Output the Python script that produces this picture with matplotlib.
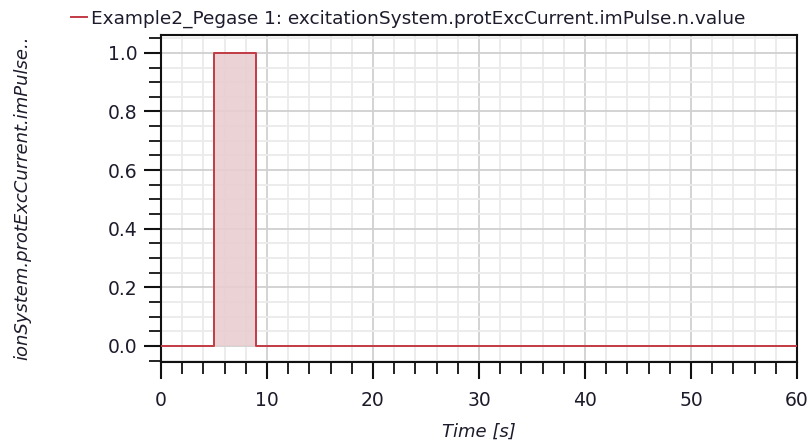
import matplotlib
matplotlib.use("Agg")
import matplotlib.pyplot as plt
from matplotlib.ticker import MultipleLocator

# ---- data ----
time_s = [0, 5, 5, 9, 9, 60]
pulse_value = [0, 0, 1, 1, 0, 0]
series_label = "Example2_Pegase 1: excitationSystem.protExcCurrent.imPulse.n.value"
y_label = "ionSystem.protExcCurrent.imPulse.."
x_label = "Time [s]"
x_ticks = [0, 10, 20, 30, 40, 50, 60]
y_ticks = [0.0, 0.2, 0.4, 0.6, 0.8, 1.0]

plt.rcParams['font.family'] = ['DejaVu Sans']

line_color = "#c23b45"
text_color = "#1c1c2c"

fig = plt.figure(figsize=(8.10, 4.48), dpi=100)
ax = fig.add_axes([161/810, 1-362/448, (797-161)/810, (362-35)/448])

ax.fill_between(time_s, pulse_value, 0, color="#e9cdd0", alpha=0.9, linewidth=0, zorder=2)
ax.plot(time_s, pulse_value, color=line_color, lw=1.4, label=series_label, zorder=3)

ax.set_xlim(0, 60)
ax.set_ylim(-0.055, 1.061)
ax.set_xticks(x_ticks)
ax.set_yticks(y_ticks)
ax.set_yticklabels([f"{v:.1f}" for v in y_ticks])
ax.xaxis.set_minor_locator(MultipleLocator(2))
ax.yaxis.set_minor_locator(MultipleLocator(0.05))

ax.grid(which='major', color='#d0d0d0', lw=1.3, zorder=0)
ax.grid(which='minor', color='#ebebeb', lw=1.3, zorder=0)
ax.set_axisbelow(True)

for s in ax.spines.values():
    s.set_linewidth(1.5)
    s.set_color('#111111')

ax.tick_params(which='major', direction='out', length=12, width=1.5, colors='#111111',
               labelsize=13.5, labelcolor=text_color, pad=5)
ax.tick_params(which='minor', direction='out', length=8.5, width=1.3, colors='#111111')
ax.tick_params(axis='x', which='major', pad=9)

ax.set_xlabel(x_label, fontsize=13, style='italic', color=text_color, labelpad=9)
fig.text(22/810, 1-198/448, y_label, rotation=90, fontsize=13, style='italic',
         color=text_color, ha='center', va='center')

leg = ax.legend(loc='lower left', bbox_to_anchor=(71/810, 1-28/448), bbox_transform=fig.transFigure,
                frameon=False, fontsize=13.3, handlelength=0.85, handletextpad=0.25,
                borderpad=0, borderaxespad=0)
for t in leg.get_texts():
    t.set_color(text_color)

fig.savefig("out.png", dpi=100)
